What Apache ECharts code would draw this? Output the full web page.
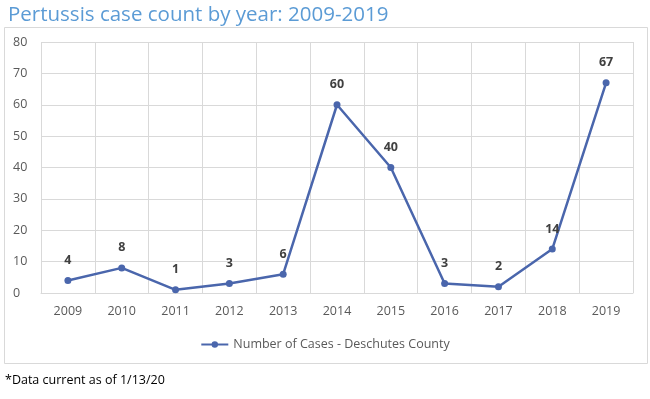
<!DOCTYPE html>
<html>
<head>
<meta charset="utf-8">
<script src="https://cdn.jsdelivr.net/npm/echarts@6/dist/echarts.min.js"></script>
<style>
  html, body { margin: 0; padding: 0; background: #fff; }
  #chart { width: 650px; height: 399px; }
</style>
</head>
<body>
<div id="chart"></div>
<script>
var years = ['2009', '2010', '2011', '2012', '2013', '2014', '2015', '2016', '2017', '2018', '2019'];
var cases = [4, 8, 1, 3, 6, 60, 40, 3, 2, 14, 67];
var seriesName = 'Number of Cases - Deschutes County';

var myChart = echarts.init(document.getElementById('chart'));

var option = {
  backgroundColor: '#fff',
  animation: false,
  title: {
    text: 'Pertussis case count by year: 2009-2019',
    left: 3,
    top: 0,
    textStyle: {
      fontFamily: 'Open Sans',
      fontWeight: 'normal',
      fontSize: 20.5,
      color: '#5b9bd5'
    }
  },
  graphic: [
    {
      type: 'rect',
      shape: { x: 4.5, y: 27.5, width: 643, height: 336 },
      style: { fill: 'none', stroke: '#d9d9d9', lineWidth: 1 },
      silent: true
    },
    {
      type: 'text',
      left: 5,
      top: 374,
      style: {
        text: '*Data current as of 1/13/20',
        fontFamily: 'Open Sans',
        fontSize: 12.5,
        fill: '#000'
      }
    }
  ],
  legend: {
    data: [seriesName],
    top: 333,
    left: 'center',
    itemWidth: 27,
    itemHeight: 8,
    itemGap: 4,
    textStyle: {
      fontFamily: 'Open Sans',
      fontSize: 12.5,
      color: '#595959'
    }
  },
  grid: {
    left: 41,
    right: 17,
    top: 42,
    bottom: 106
  },
  xAxis: {
    type: 'category',
    data: years,
    boundaryGap: true,
    axisLine: { lineStyle: { color: '#d9d9d9' } },
    axisTick: { show: false },
    splitLine: { show: true, lineStyle: { color: '#d9d9d9' } },
    axisLabel: {
      fontFamily: 'Open Sans',
      fontSize: 12.5,
      color: '#595959',
      margin: 12
    }
  },
  yAxis: {
    type: 'value',
    min: 0,
    max: 80,
    interval: 10,
    axisLine: { show: false },
    axisTick: { show: false },
    splitLine: { lineStyle: { color: '#d9d9d9' } },
    axisLabel: {
      fontFamily: 'Open Sans',
      fontSize: 12.5,
      color: '#595959',
      margin: 28,
      align: 'left'
    }
  },
  series: [
    {
      name: seriesName,
      type: 'line',
      data: cases,
      symbol: 'circle',
      symbolSize: 7,
      lineStyle: { color: '#4a66ac', width: 2.5 },
      itemStyle: { color: '#4a66ac' },
      label: {
        show: true,
        position: 'top',
        distance: 10,
        fontFamily: 'Open Sans',
        fontWeight: 'bold',
        fontSize: 12.5,
        color: '#404040'
      }
    }
  ]
};

myChart.setOption(option);
</script>
</body>
</html>
